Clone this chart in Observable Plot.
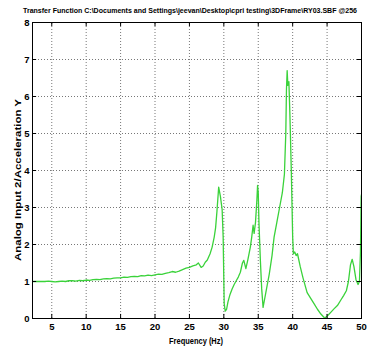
<!DOCTYPE html>
<html><head><meta charset="utf-8">
<script src="https://cdn.jsdelivr.net/npm/d3@7"></script>
<script src="https://cdn.jsdelivr.net/npm/@observablehq/plot@0.6"></script>
<style>
html,body{margin:0;padding:0;background:#fff;}
</style>
</head><body>
<div id="chart"></div>
<script>
const titleText = "Transfer Function C:\\Documents and Settings\\jeevan\\Desktop\\cpri testing\\3DFrame\\RY03.SBF @256";
const xLabel = "Frequency (Hz)";
const yLabel = "Analog Input 2/Acceleration Y";
const xTicks = [5, 10, 15, 20, 25, 30, 35, 40, 45, 50];
const yTicks = [0, 1, 2, 3, 4, 5, 6, 7, 8];

const freq = [
  2.2, 2.5, 3, 3.5, 4, 4.5, 5, 5.5, 6, 6.5, 7, 7.5, 8, 8.5, 9, 9.5, 10, 10.5, 11, 11.5,
  12, 12.5, 13, 13.5, 14, 14.5, 15, 15.5, 16, 16.5, 17, 17.5, 18, 18.5, 19, 19.5, 20, 20.5,
  21, 21.5, 22, 22.5, 23, 23.5, 24, 24.5, 25, 25.5, 26, 26.3, 26.7, 27, 27.3, 27.6, 28, 28.3,
  28.6, 28.8, 29, 29.25, 29.5, 29.75, 29.9, 30.0, 30.05, 30.2, 30.4, 30.6, 30.9, 31.2, 31.5,
  31.8, 32.1, 32.4, 32.7, 32.9, 33.2, 33.5, 33.85, 34.05, 34.25, 34.4, 34.6, 34.8, 34.9, 35.0,
  35.1, 35.3, 35.5, 35.7, 35.9, 36.2, 36.6, 37.0, 37.3, 37.7, 38.1, 38.5, 38.8, 39.0, 39.1,
  39.2, 39.3, 39.45, 39.6, 39.8, 40.0, 40.1, 40.3, 40.5, 40.7, 41.1, 41.5, 42.1, 42.6, 43.1,
  43.6, 44.1, 44.5, 44.8, 45.2, 45.6, 46.0, 46.5, 47.0, 47.4, 47.8, 48.1, 48.4, 48.65, 48.9,
  49.2, 49.5, 49.7, 49.85, 49.95, 50
];
const response = [
  1.00, 1.00, 1.00, 1.00, 1.00, 1.01, 1.00, 0.99, 1.00, 1.01, 1.00, 1.02, 1.02, 1.01, 1.03, 1.02, 1.04, 1.03, 1.05, 1.06,
  1.05, 1.07, 1.08, 1.07, 1.09, 1.10, 1.10, 1.12, 1.11, 1.13, 1.14, 1.13, 1.16, 1.15, 1.17, 1.16, 1.18, 1.20,
  1.19, 1.22, 1.24, 1.27, 1.25, 1.28, 1.32, 1.36, 1.38, 1.42, 1.45, 1.50, 1.38, 1.42, 1.52, 1.58, 1.75, 1.93,
  2.20, 2.45, 2.90, 3.55, 3.30, 2.95, 2.20, 1.00, 0.40, 0.20, 0.25, 0.45, 0.65, 0.80, 0.92,
  1.02, 1.12, 1.25, 1.50, 1.57, 1.35, 1.60, 1.93, 2.20, 2.52, 2.30, 2.60, 3.20, 3.60, 3.40,
  2.60, 1.60, 0.80, 0.30, 0.50, 0.80, 1.20, 1.70, 2.20, 2.60, 3.00, 3.40, 3.90, 5.00, 6.20,
  6.70, 6.30, 6.40, 5.50, 4.00, 2.20, 1.75, 1.80, 1.70, 1.75, 1.40, 1.10, 0.70, 0.55, 0.40,
  0.25, 0.12, 0.04, 0.03, 0.10, 0.18, 0.26, 0.35, 0.50, 0.62, 0.75, 1.00, 1.45, 1.60, 1.40,
  1.05, 0.92, 1.00, 1.80, 3.30, 3.35
];
const xDomain = [2.2, 50];
const yDomain = [0, 8];

const data = freq.map((f, i) => ({f, v: response[i]}));
const font = "'Liberation Sans Narrow', 'Liberation Sans', Arial, sans-serif";

const W = 368, H = 351;
const mL = 32, mR = 7, mT = 22, mB = 33;

const plot = Plot.plot({
  width: W, height: H,
  marginLeft: mL, marginRight: mR, marginTop: mT, marginBottom: mB,
  x: {domain: xDomain},
  y: {domain: yDomain},
  style: {fontFamily: font, fontSize: "9px", fontWeight: "bold", background: "#fff", color: "#000"},
  marks: [
    Plot.ruleX(xTicks.filter(t => t < 50), {x: d => d, y1: 0, y2: 8, stroke: "#777", strokeDasharray: "1,2", strokeWidth: 1}),
    Plot.ruleY(yTicks.filter(t => t > 0 && t < 8), {y: d => d, x1: xDomain[0], x2: 50, stroke: "#777", strokeDasharray: "1,2", strokeWidth: 1}),
    Plot.lineY(data, {x: "f", y: "v", stroke: "#3ad23a", strokeWidth: 1.3, clip: true}),
    Plot.ruleX(xTicks, {x: d => d, y1: 0, y2: 0.11, stroke: "#000"}),
    Plot.ruleX(xTicks, {x: d => d, y1: 7.89, y2: 8, stroke: "#000"}),
    Plot.ruleY(yTicks, {y: d => d, x1: xDomain[0], x2: xDomain[0] + 0.6, stroke: "#000"}),
    Plot.ruleY(yTicks, {y: d => d, x1: 49.4, x2: 50, stroke: "#000"}),
    Plot.frame({stroke: "#000", strokeWidth: 1}),
    Plot.axisX(xTicks, {tickSize: 0, tickPadding: 5, label: null, fontSize: 9.5, fontWeight: "bold"}),
    Plot.axisY(yTicks, {tickSize: 0, tickPadding: 3, label: null, fontSize: 9.5, fontWeight: "bold"})
  ]
});

const svg = d3.select(plot);
svg.append("text")
  .attr("x", 190).attr("y", 13)
  .attr("text-anchor", "middle")
  .attr("font-family", font).attr("font-size", 7.1).attr("font-weight", "bold")
  .attr("textLength", 334).attr("lengthAdjust", "spacingAndGlyphs")
  .text(titleText);
svg.append("text")
  .attr("x", 196).attr("y", 344)
  .attr("text-anchor", "middle")
  .attr("font-family", font).attr("font-size", 8.5).attr("font-weight", "bold")
  .attr("textLength", 54).attr("lengthAdjust", "spacingAndGlyphs")
  .text(xLabel);
svg.append("text")
  .attr("transform", "translate(21,180) rotate(-90)")
  .attr("text-anchor", "middle")
  .attr("font-family", font).attr("font-size", 9.5).attr("font-weight", "bold")
  .attr("textLength", 162).attr("lengthAdjust", "spacingAndGlyphs")
  .text(yLabel);

document.getElementById("chart").appendChild(plot);
</script>
</body></html>
